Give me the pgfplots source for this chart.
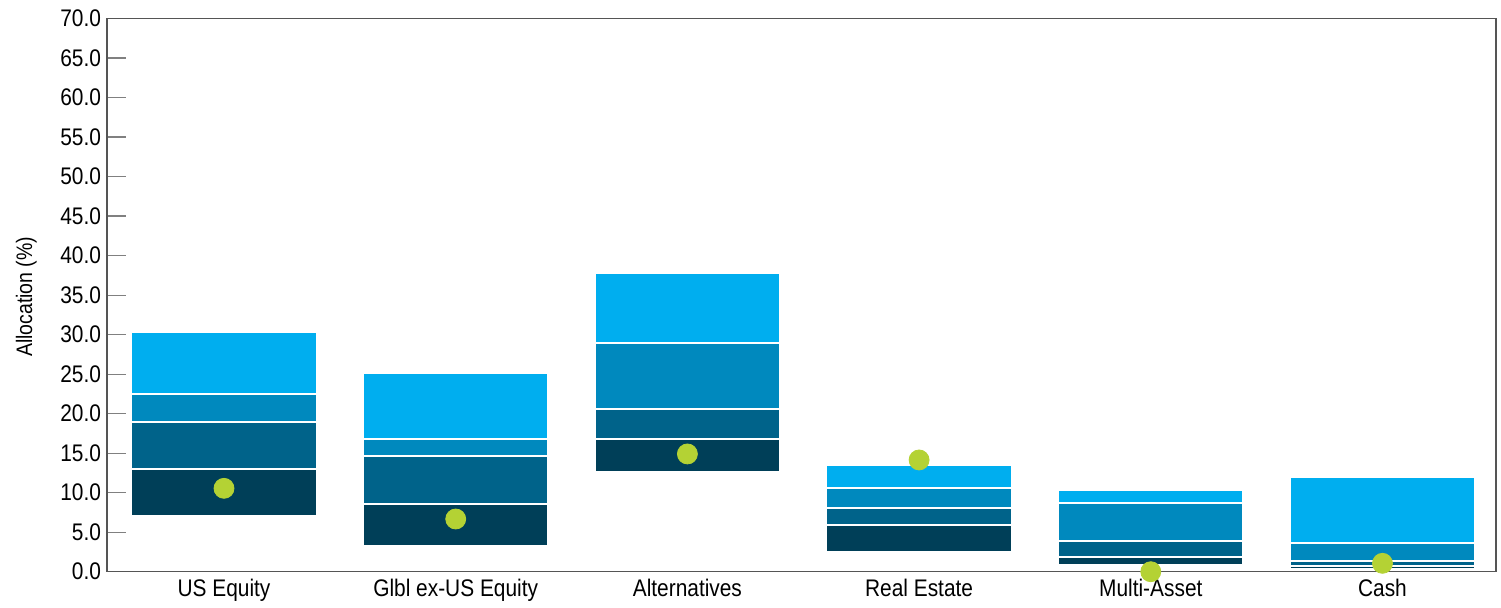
\documentclass[border=0pt]{standalone}
\usepackage{pgfplots}
\pgfplotsset{compat=1.18}
\usepackage{pgfplotstable}
\usetikzlibrary{calc}
\usepackage{fontspec}
\setmainfont{Liberation Sans}[FakeStretch=0.87]
\definecolor{cA}{RGB}{0,63,88}
\definecolor{cB}{RGB}{0,99,138}
\definecolor{cC}{RGB}{0,137,190}
\definecolor{cD}{RGB}{0,174,239}
\definecolor{dotc}{RGB}{180,210,52}
\definecolor{axc}{RGB}{85,85,85}

% x, bottom, b1, b2, b3, top, median dot
\pgfplotstableread{
x  b0    b1    b2    b3    b4    dot
0  7.00  13.00 18.95 22.50 30.30 10.55
1  3.20  8.57  14.65 16.80 25.10 6.67
2  12.60 16.75 20.60 28.95 37.85 14.90
3  2.53  5.87  8.06  10.60 13.55 14.14
4  0.89  1.82  3.85  8.70  10.34 0.00
5  0.30  0.76  1.31  3.67  11.95 1.06
}\data

\pgfplotsset{common/.style={
  scale only axis, width=694.5pt, height=276.6pt,
  xmin=-0.505, xmax=5.49, ymin=0, ymax=70,
}}

\begin{document}
\begin{tikzpicture}
\begin{axis}[common,
  ybar stacked, bar width=0.8,
  axis line style={axc, line width=0.6pt},
  xtick={0,1,2,3,4,5},
  xticklabels={US Equity, Glbl ex-US Equity, Alternatives, Real Estate, Multi-Asset, Cash},
  x tick style={draw=none},
  xticklabel style={font=\fontsize{12}{13}\selectfont, yshift=0pt},
  ytick={0,5,...,70},
  ytick pos=left,
  y tick style={gray, line width=0.6pt},
  major tick length=9.5pt,
  tick align=inside,
  yticklabel style={font=\fontsize{12}{13}\selectfont, xshift=0.5pt},
  /pgf/number format/.cd, fixed, fixed zerofill, precision=1, assume math mode=true,
  /pgfplots/.cd,
  ylabel={Allocation (\%)},
  ylabel style={at={(axis description cs:-0.058,0.497)}, anchor=center, font=\fontsize{11.2}{12}\selectfont},
]
\addplot[draw=none, fill=none] table[x=x, y=b0] {\data};
\addplot[fill=cA, draw=white, line width=1pt] table[x=x, y expr=\thisrow{b1}-\thisrow{b0}] {\data};
\addplot[fill=cB, draw=white, line width=1pt] table[x=x, y expr=\thisrow{b2}-\thisrow{b1}] {\data};
\addplot[fill=cC, draw=white, line width=1pt] table[x=x, y expr=\thisrow{b3}-\thisrow{b2}] {\data};
\addplot[fill=cD, draw=white, line width=1pt] table[x=x, y expr=\thisrow{b4}-\thisrow{b3}] {\data};
\end{axis}
\begin{axis}[common, axis lines=none, clip=false]
\addplot[dotc, only marks, mark=*, mark size=5pt, mark options={fill=dotc, draw=dotc}] table[x=x, y=dot] {\data};
\end{axis}
\useasboundingbox ($(current axis.south west)+(-53.5pt,-16.65pt)$) rectangle ($(current axis.north east)+(2.5pt,9.25pt)$);
\end{tikzpicture}
\end{document}
